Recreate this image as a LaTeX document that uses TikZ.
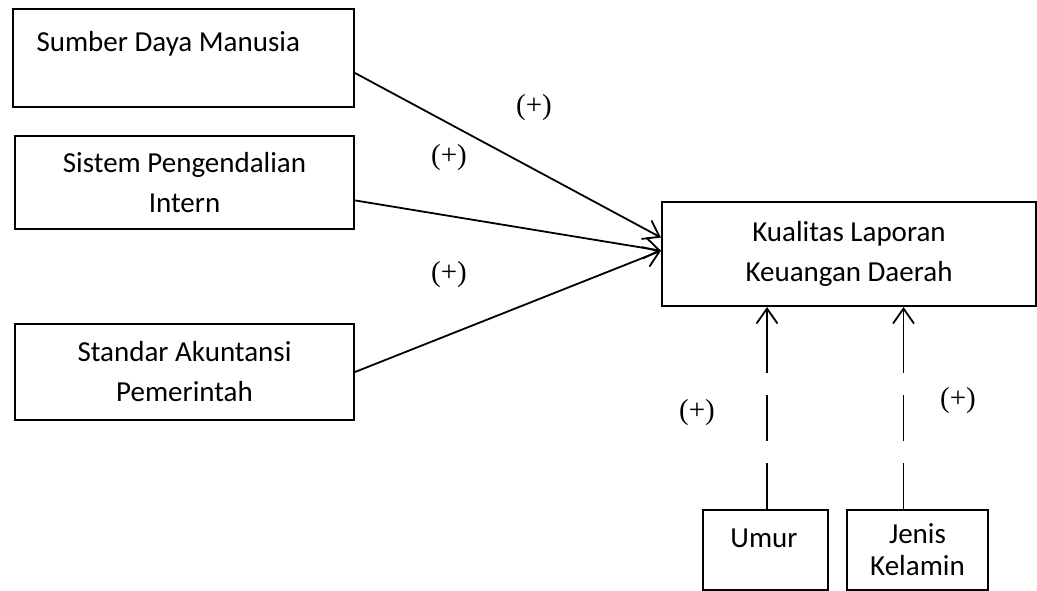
\documentclass[tikz,border=0pt]{standalone}
\usepackage{fontspec}
\setmainfont{Carlito}
\newfontfamily\timesfont{Liberation Serif}
\usetikzlibrary{arrows.meta, positioning, calc}

\begin{document}
\begin{tikzpicture}[x=1pt, y=-1pt,
  every node/.style={font=\fontsize{29}{40}\selectfont},
  varbox/.style={draw, line width=2pt, inner sep=0pt, align=center, anchor=north west},
  sign/.style={font=\timesfont\fontsize{29}{34}\selectfont},
  effect/.style={line width=1.8pt, -{Straight Barb[length=15pt, width=21pt, line width=1.8pt]}},
  moderate/.style={effect, dash pattern=on 46pt off 22pt on 46pt off 22pt on 120pt}]
  \useasboundingbox (0,0) rectangle (1037,591);

  % independent variables
  \node[varbox, minimum width=341pt, minimum height=98pt] (sdm) at (12,8) {};
  \node[anchor=base west] (sdmtext) at (33,52) {Sumber Daya Manusia};
  \node[varbox, minimum width=339pt, minimum height=93pt] (spi) at (14,135) {Sistem Pengendalian\\Intern};
  \node[varbox, minimum width=339pt, minimum height=96pt] (sap) at (14,323) {Standar Akuntansi\\Pemerintah};

  % dependent variable
  \node[varbox, minimum width=374pt, minimum height=104pt] (kld) at (661,201) {Kualitas Laporan\\Keuangan Daerah};

  % moderating variables
  \node[varbox, minimum width=125pt, minimum height=80pt] (umur) at (702,509) {};
  \node[anchor=base] (umurtext) at (764,547) {Umur};
  \node[varbox, minimum width=141pt, minimum height=80pt, font=\fontsize{29}{34}\selectfont] (jk) at (846,509) {Jenis\\[-2pt]Kelamin};

  \draw[effect] (sdm.-5) -- (kld.175);
  \draw[effect] (spi.-6) -- (kld.179);
  \draw[effect] (sap.east) -- (kld.179);

  \coordinate (umurfoot) at ($(umur.north)+(1.5,0)$);
  \coordinate (jkfoot) at ($(jk.north)+(-14,0)$);
  \draw[moderate] (umurfoot) -- (umurfoot |- kld.south);
  \draw[moderate] (jkfoot) -- (jkfoot |- kld.south);

  % signs
  \node[sign] (s1) at (534,108) {(+)};
  \node[sign] (s2) at (449,158) {(+)};
  \node[sign] (s3) at (449,275) {(+)};
  \node[sign] (s4) at (697,413) {(+)};
  \node[sign] (s5) at (958,401) {(+)};
\end{tikzpicture}
\end{document}
